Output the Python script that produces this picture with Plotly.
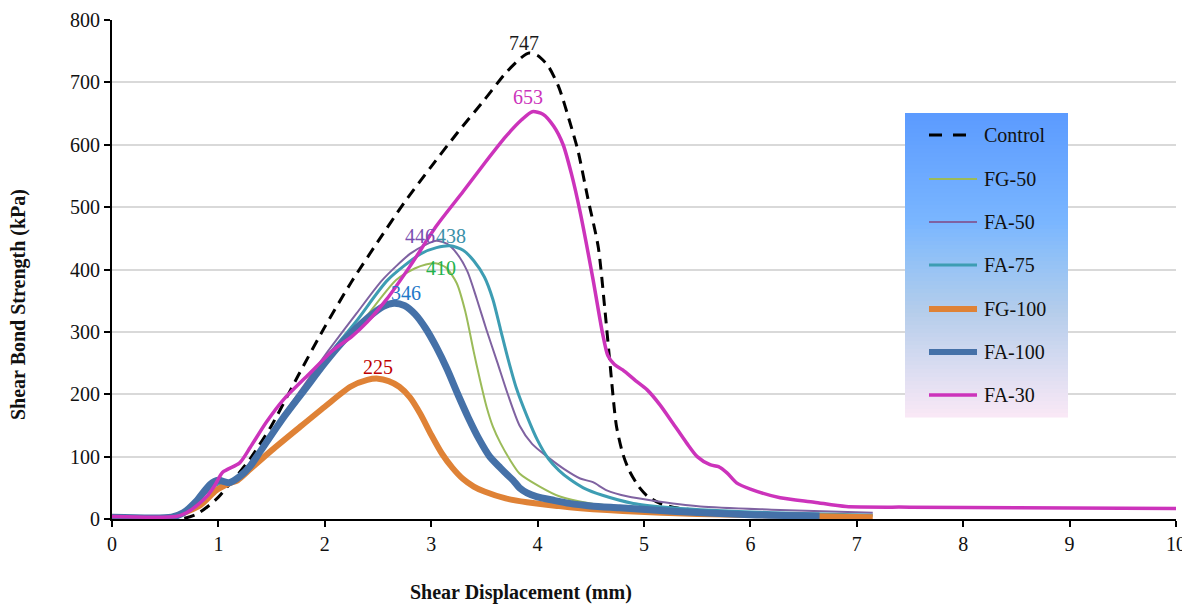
import plotly.graph_objects as go

# ---------------- data ----------------
series_names = ["Control", "FG-50", "FA-50", "FA-75", "FG-100", "FA-100", "FA-30"]

control_x = [0, 0.6, 0.7, 0.8, 0.9, 1.0, 1.1, 1.2, 1.3, 1.5, 1.75, 2.0, 2.25, 2.5, 2.75, 3.0, 3.25,
             3.5, 3.7, 3.85, 3.92, 4.0, 4.1, 4.2, 4.3, 4.38, 4.47, 4.57, 4.63, 4.68, 4.74, 4.8,
             4.86, 4.95, 5.03, 5.15, 5.3, 5.6]
control_y = [0, 0, 2, 8, 20, 35, 55, 75, 97, 150, 230, 308, 380, 445, 508, 565, 620,
             672, 715, 740, 747, 743, 726, 692, 638, 590, 516, 436, 340, 250, 150, 105,
             78, 52, 37, 25, 18, 12]

fg50_x = [0, 0.6, 0.7, 0.8, 0.9, 1.0, 1.1, 1.2, 1.4, 1.6, 1.8, 2.0, 2.3, 2.67, 2.85, 2.95, 3.04,
          3.14, 3.24, 3.32, 3.4, 3.46, 3.52, 3.58, 3.65, 3.74, 3.83, 4.02, 4.21, 4.5, 5.0, 5.5,
          6.0, 6.6]
fg50_y = [3, 3, 12, 28, 45, 56, 60, 68, 110, 158, 205, 250, 305, 383, 402, 408, 410,
          403, 378, 333, 268, 222, 180, 148, 122, 95, 73, 52, 36, 25, 17, 11,
          7, 5]

fa50_x = [0, 0.6, 0.7, 0.8, 0.9, 1.0, 1.1, 1.2, 1.4, 1.6, 1.8, 2.0, 2.3, 2.54, 2.8, 2.95, 3.05,
          3.15, 3.24, 3.34, 3.43, 3.52, 3.62, 3.72, 3.83, 3.95, 4.09, 4.25, 4.4, 4.52, 4.65,
          4.85, 5.06, 5.53, 6.2, 7.15]
fa50_y = [3, 3, 12, 28, 45, 57, 60, 70, 115, 165, 213, 262, 330, 383, 425, 440, 446,
          441, 426, 397, 352, 303, 252, 200, 150, 120, 100, 80, 65, 59, 46,
          36, 30, 20, 15, 10]

fa75_x = [0, 0.6, 0.7, 0.8, 0.9, 1.0, 1.1, 1.2, 1.4, 1.6, 1.8, 2.0, 2.3, 2.59, 2.9, 3.05, 3.18,
          3.3, 3.4, 3.5, 3.58, 3.65, 3.72, 3.8, 3.9, 4.0, 4.1, 4.2, 4.3, 4.43, 4.61, 4.9, 5.2,
          5.53, 6.2, 7.15]
fa75_y = [3, 3, 12, 28, 45, 56, 60, 68, 112, 160, 208, 255, 318, 383, 425, 435, 438,
          431, 414, 388, 352, 305, 258, 210, 165, 126, 97, 78, 64, 50, 38, 25, 19,
          15, 10, 6]

fg100_x = [0, 0.55, 0.65, 0.83, 0.98, 1.1, 1.18, 1.3, 1.5, 1.77, 2.0, 2.24, 2.4, 2.5, 2.6, 2.7,
           2.8, 2.9, 3.0, 3.1, 3.2, 3.3, 3.4, 3.5, 3.7, 3.9, 4.3, 4.8, 5.5, 6.5, 7.15]
fg100_y = [2, 2, 8, 22, 46, 57, 62, 80, 110, 148, 180, 212, 223, 225, 221, 212,
           195, 168, 135, 105, 82, 64, 52, 44, 33, 27, 19, 13, 8, 5, 3]

fa100_x = [0, 0.56, 0.67, 0.8, 0.92, 1.0, 1.1, 1.2, 1.3, 1.4, 1.6, 1.8, 2.0, 2.2, 2.4, 2.55, 2.65,
           2.75, 2.85, 2.95, 3.05, 3.15, 3.25, 3.35, 3.45, 3.55, 3.65, 3.72, 3.77, 3.83, 3.9,
           3.99, 4.15, 4.3, 4.5, 4.77, 5.3, 6.0, 6.65]
fa100_y = [3, 3, 10, 30, 55, 62, 58, 68, 85, 110, 160, 205, 250, 290, 322, 341, 346,
           342, 328, 305, 275, 240, 200, 162, 128, 100, 82, 70, 62, 50, 42,
           36, 30, 25, 21, 18, 12, 7, 5]

fa30_x = [0, 0.6, 0.7, 0.8, 0.9, 0.97, 1.04, 1.2, 1.3, 1.45, 1.61, 1.85, 2.08, 2.25, 2.4, 2.58,
          2.8, 3.05, 3.3, 3.5, 3.7, 3.85, 3.95, 4.05, 4.15, 4.24, 4.32, 4.4, 4.52, 4.61, 4.66,
          4.72, 4.8, 4.92, 5.03, 5.15, 5.27, 5.4, 5.5, 5.62, 5.7, 5.78, 5.87, 6.0, 6.28, 6.6,
          6.9, 7.5, 8.5, 10]
fa30_y = [4, 4, 10, 22, 38, 55, 75, 90, 115, 155, 191, 232, 271, 292, 316, 352,
          405, 470, 525, 570, 613, 640, 653, 649, 630, 600, 552, 492, 385, 298, 262,
          248, 239, 222, 207, 183, 154, 122, 100, 87, 84, 74, 58, 48, 34, 27,
          20, 19, 18, 17]

peak_values = [747, 410, 446, 438, 225, 346, 653]

# ---------------- styles ----------------
FONT = "Liberation Serif, Times New Roman, serif"
colors = ["#000000", "#9bbb59", "#7f62a1", "#3d9db3", "#df8236", "#4571a8", "#cc33bb"]
widths = [3, 2, 2, 3, 6, 7, 3.5]
dashes = ["11px,7px", "solid", "solid", "solid", "solid", "solid", "solid"]
label_colors = ["#1a1a1a", "#22b24c", "#7a4fb0", "#3a90a8", "#c00000", "#1f78c8", "#cc33bb"]
# text-centre positions of the peak labels (x in mm, y in kPa)
label_pos = [(3.87, 763), (3.09, 402), (2.895, 454), (3.19, 454), (2.50, 243), (2.76, 362), (3.91, 676)]

xs = [control_x, fg50_x, fa50_x, fa75_x, fg100_x, fa100_x, fa30_x]
ys = [control_y, fg50_y, fa50_y, fa75_y, fg100_y, fa100_y, fa30_y]

fig = go.Figure()
for name, x, y, c, w, d in zip(series_names, xs, ys, colors, widths, dashes):
    fig.add_trace(go.Scatter(
        x=x, y=y, name=name, mode="lines",
        line=dict(color=c, width=w, dash=d, shape="spline", smoothing=0.7),
        showlegend=False, hoverinfo="x+y+name"))

# peak labels
for v, (lx, ly), c in zip(peak_values, label_pos, label_colors):
    fig.add_annotation(x=lx, y=ly, text=str(v), showarrow=False,
                       font=dict(family=FONT, size=20, color=c),
                       xanchor="center", yanchor="middle")

# ---------------- page-pixel helpers (page has an 8px body margin) ----------------
W, H = 1190, 604
OFF = 8
PL, PR, PT, PB = 112, 1176, 20, 519          # plot area in page pixels
PW, PH = PR - PL, PB - PT


def px(xp):
    return (xp - PL) / PW


def py(yp):
    return (PB - yp) / PH


# gradient legend box
box_x0, box_x1, box_y0, box_y1 = 905, 1068, 113, 417
stops = [(0.0, (91, 155, 255)), (0.36, (122, 182, 255)), (0.5, (150, 195, 245)),
         (0.65, (180, 205, 235)), (1.0, (250, 233, 246))]


def grad(t):
    for (t0, c0), (t1, c1) in zip(stops[:-1], stops[1:]):
        if t <= t1:
            f = (t - t0) / (t1 - t0)
            return "rgb(%d,%d,%d)" % tuple(round(a + (b - a) * f) for a, b in zip(c0, c1))
    return "rgb(%d,%d,%d)" % stops[-1][1]


nstrip = 76
for i in range(nstrip):
    y0p = box_y0 + (box_y1 - box_y0) * i / nstrip
    y1p = box_y0 + (box_y1 - box_y0) * (i + 1) / nstrip
    fig.add_shape(type="rect", xref="paper", yref="paper",
                  x0=px(box_x0), x1=px(box_x1), y0=py(y1p + 0.5), y1=py(y0p),
                  line=dict(width=0), fillcolor=grad((i + 0.5) / nstrip), layer="above")

row_y = [135, 179, 222, 265, 309, 352, 395]
for name, c, w, d, ry in zip(series_names, colors, widths, dashes, row_y):
    lw = min(w, 6) if w > 3 else w
    fig.add_shape(type="line", xref="paper", yref="paper",
                  x0=px(929), x1=px(977), y0=py(ry), y1=py(ry),
                  line=dict(color=c, width=lw, dash=("13px,11px" if d != "solid" else "solid")),
                  layer="above")
    fig.add_annotation(xref="paper", yref="paper", x=px(982), y=py(ry), text=name,
                       showarrow=False, xanchor="left", yanchor="middle",
                       font=dict(family=FONT, size=20, color="#111111"))

# axis titles
fig.add_annotation(xref="paper", yref="paper", x=px(521), y=py(592),
                   text="<b>Shear Displacement (mm)</b>", showarrow=False,
                   xanchor="center", yanchor="middle",
                   font=dict(family=FONT, size=20, color="#111111"))
fig.add_annotation(xref="paper", yref="paper", x=px(18), y=py(305),
                   text="<b>Shear Bond Strength (kPa)</b>", showarrow=False, textangle=-90,
                   xanchor="center", yanchor="middle",
                   font=dict(family=FONT, size=20, color="#111111"))

fig.update_layout(
    width=W, height=H,
    margin=dict(l=PL - OFF, r=W - (PR - OFF), t=PT - OFF, b=H - (PB - OFF), autoexpand=False),
    paper_bgcolor="white", plot_bgcolor="white",
    font=dict(family=FONT, size=20, color="#111111"),
)
fig.update_xaxes(range=[0, 10], dtick=1, tick0=0, showgrid=False, zeroline=False,
                 showline=True, linecolor="black", linewidth=2,
                 ticks="outside", ticklen=6, tickwidth=2, tickcolor="black",
                 tickfont=dict(family=FONT, size=20, color="#111111"))
fig.update_yaxes(range=[0, 800], dtick=100, tick0=0, showgrid=True, gridcolor="#d9d9d9",
                 gridwidth=1.5, zeroline=False,
                 showline=True, linecolor="black", linewidth=2,
                 ticks="outside", ticklen=6, tickwidth=2, tickcolor="black",
                 tickfont=dict(family=FONT, size=20, color="#111111"))

fig.write_html("out.html")
